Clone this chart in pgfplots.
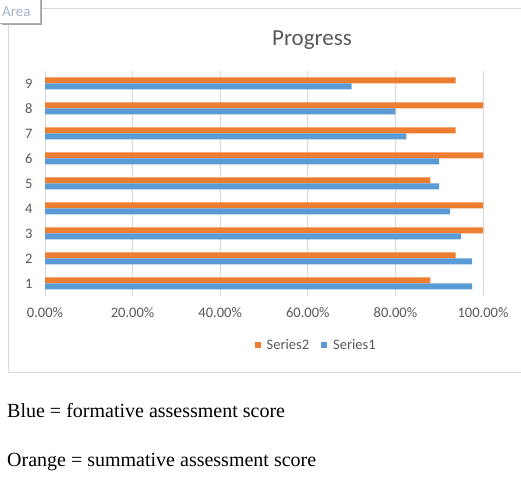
\documentclass[border=0pt]{standalone}
\usepackage{fontspec}
\setmainfont{Liberation Serif}
\newfontfamily\calibri{Carlito}
\usepackage{pgfplots}
\pgfplotsset{compat=1.18}
\definecolor{sOrange}{HTML}{ED7D31}
\definecolor{sBlue}{HTML}{5B9BD5}
\definecolor{gridgray}{HTML}{D9D9D9}
\definecolor{txtgray}{HTML}{595959}
\definecolor{tipgray}{HTML}{A5B4C8}
\begin{document}
\begin{tikzpicture}[x=1bp,y=1bp]
\useasboundingbox (0,0) rectangle (521,480);
% chart area border
\draw[gridgray, line width=1bp] (521,471) -- (8,471) -- (8,107) -- (521,107);
\begin{axis}[
    at={(45bp,184bp)}, anchor=south west,
    scale only axis,
    width=438bp, height=225bp,
    xbar, bar width=6bp,
    xmin=0, xmax=1,
    ymin=0.5, ymax=9.5,
    ytick={1,...,9},
    xtick={0,0.2,0.4,0.6,0.8,1},
    xticklabels={0.00\%,20.00\%,40.00\%,60.00\%,80.00\%,100.00\%},
    /pgf/number format/assume math mode=true,
    axis line style={draw=none},
    major tick length=0pt,
    xmajorgrids, grid style={gridgray, line width=0.8bp},
    tick label style={font=\calibri\fontsize{14.5bp}{16bp}\selectfont, text=txtgray},
    xticklabel style={yshift=-8bp},
    yticklabel style={xshift=-9bp},
    legend style={at={(0.619,0)}, anchor=center, yshift=-49bp, draw=none, fill=none,
        font=\calibri\fontsize{14.5bp}{16bp}\selectfont, text=txtgray,
        legend columns=2, /tikz/every odd column/.append style={column sep=4bp},
        /tikz/every even column/.append style={column sep=10bp}},
    legend image code/.code={\fill[#1] (0bp,-3bp) rectangle (6bp,3bp);},
]
\addplot[fill=sOrange, draw=none, bar shift=3bp] coordinates {
(0.88,1) (0.9375,2) (1.0,3) (1.0,4) (0.88,5) (1.0,6) (0.9375,7) (1.0,8) (0.9375,9)
};
\addlegendentry{Series2}
\addplot[fill=sBlue, draw=none, bar shift=-3bp] coordinates {
(0.975,1) (0.975,2) (0.95,3) (0.925,4) (0.90,5) (0.90,6) (0.825,7) (0.80,8) (0.70,9)
};
\addlegendentry{Series1}
\end{axis}
% title
\node[anchor=base, font=\calibri\fontsize{23bp}{26bp}\selectfont, text=txtgray] at (312,434) {Progress};
% Area tooltip
\fill[gray!70] (2,455) rectangle (42,480);
\filldraw[fill=white, draw=gray!60] (-1,457) rectangle (40,481);
\node[anchor=base west, inner sep=0pt, font=\calibri\fontsize{15bp}{17bp}\selectfont, text=tipgray] at (2,463) {Area};
% notes
\node[anchor=base west, inner sep=0pt, font=\fontsize{20bp}{24bp}\selectfont] at (7,62) {Blue = formative assessment score};
\node[anchor=base west, inner sep=0pt, font=\fontsize{20bp}{24bp}\selectfont] at (7,13) {Orange = summative assessment score};
\end{tikzpicture}
\end{document}
